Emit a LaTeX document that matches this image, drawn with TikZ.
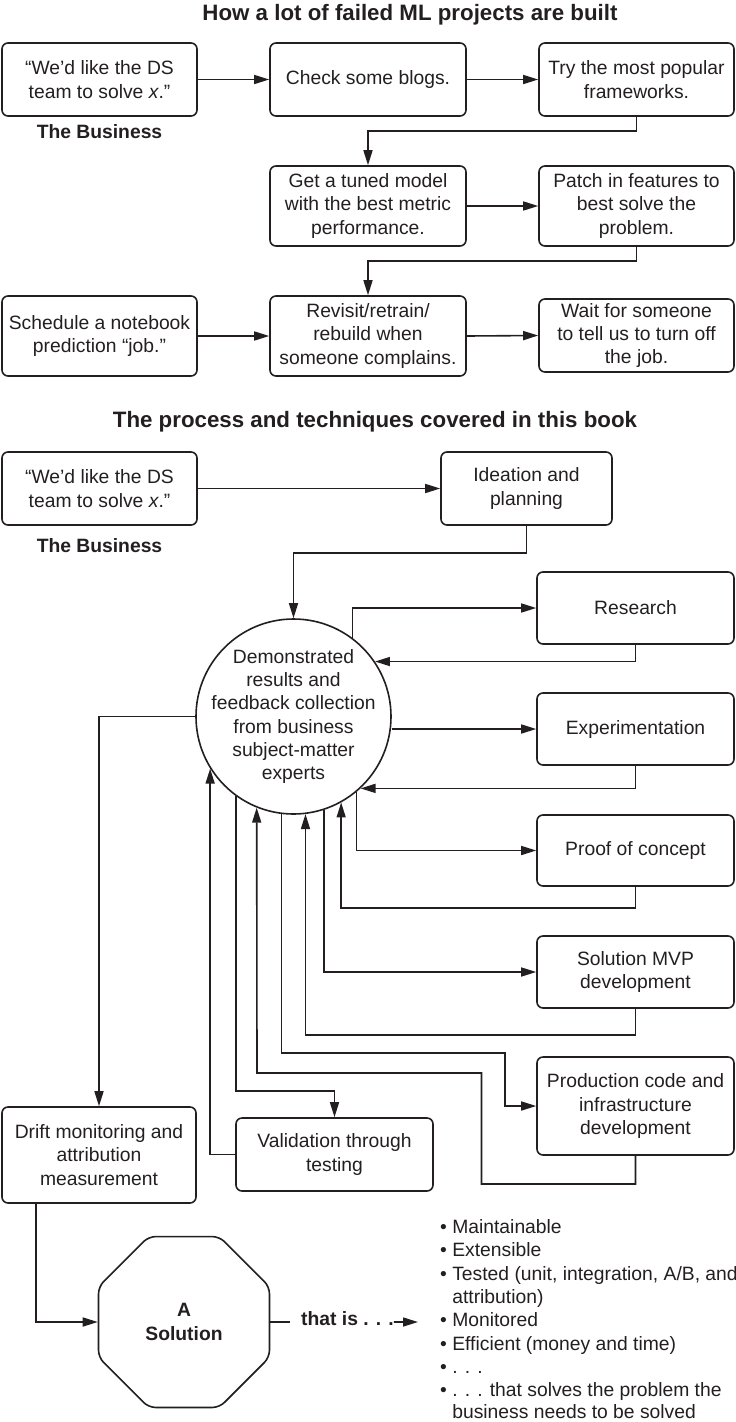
\documentclass[tikz,border=0pt]{standalone}
\usepackage{fontspec}
\setmainfont{Liberation Sans}
\usetikzlibrary{arrows.meta,shapes.geometric,calc}
\definecolor{ink}{HTML}{231F20}
\begin{document}
\begin{tikzpicture}[x=1pt,y=-1pt,
  every node/.style={font=\fontsize{19.3}{23.3}\selectfont, text=ink},
  box/.style={draw=ink, line width=1.6pt, rounded corners=6pt, align=center, inner sep=0pt},
  arr/.style={draw=ink, line width=1.6pt, -{Triangle[length=15pt,width=9pt]}},
  ln/.style={draw=ink, line width=1.6pt},
  ttl/.style={font=\bfseries\fontsize{22.3}{26}\selectfont, anchor=base},
  bold/.style={font=\bfseries\fontsize{19.3}{23.3}\selectfont},
  item/.style={anchor=base west, inner sep=0pt}]
\useasboundingbox (0,0) rectangle (736,1422);

% ---------- top part ----------
\node[ttl] (t1) at (410,20.5) {How a lot of failed ML projects are built};

\node[box, minimum width=195pt, minimum height=73pt] (A1) at (99.5,79.5) {“We’d like the DS\\team to solve \textit{x}.”};
\node[box, minimum width=196pt, minimum height=73pt] (A2) at (368,79.5) {Check some blogs.};
\node[box, minimum width=195pt, minimum height=73pt] (A3) at (636.5,79.5) {Try the most popular\\frameworks.};
\node[bold, anchor=base] (biz1) at (99.5,138) {The Business};

\node[box, minimum width=196pt, minimum height=80pt] (B1) at (368,206) {Get a tuned model\\with the best metric\\performance.};
\node[box, minimum width=195pt, minimum height=80pt] (B2) at (636.5,206) {Patch in features to\\best solve the\\problem.};

\node[box, minimum width=195pt, minimum height=80pt] (C1) at (99.5,336) {Schedule a notebook\\prediction “job.”};
\node[box, minimum width=196pt, minimum height=80pt] (C2) at (368,336) {Revisit/retrain/\\rebuild when\\someone complains.};
\node[box, minimum width=195pt, minimum height=73pt] (C3) at (636.5,335.5) {Wait for someone\\to tell us to turn off\\the job.};

\draw[arr] (A1.east) -- (A2.west);
\draw[arr] (A2.east) -- (A3.west);
\draw[arr] (A3.south) -- ++(0,14) -| (B1.north);
\draw[arr] (B1.east) -- (B2.west);
\draw[arr] (B2.south) -- ++(0,14) -| (C2.north);
\draw[arr] (C1.east) -- (C2.west);
\draw[arr] (C2.east) -- (C3.west);

% ---------- bottom part ----------
\node[ttl] (t2) at (375,427) {The process and techniques covered in this book};

\node[box, minimum width=195pt, minimum height=73pt] (D1) at (99.5,488.5) {“We’d like the DS\\team to solve \textit{x}.”};
\node[box, minimum width=171pt, minimum height=73pt] (D2) at (526.5,488.5) {Ideation and\\planning};
\node[bold, anchor=base] (biz2) at (99.5,552) {The Business};

\node[circle, draw=ink, line width=1.6pt, minimum size=195pt, inner sep=0pt] (C) at (293.5,716.5) {};
\node[align=center, inner sep=0pt] (Ctext) at (C.center) {Demonstrated\\results and\\feedback collection\\from business\\subject-matter\\experts};

\node[box, minimum width=197pt, minimum height=72pt] (R) at (635.5,608) {Research};
\node[box, minimum width=197pt, minimum height=72pt] (E) at (635.5,729) {Experimentation};
\node[box, minimum width=197pt, minimum height=71pt] (P) at (635.5,850.5) {Proof of concept};
\node[box, minimum width=197pt, minimum height=72pt] (M) at (635.5,972) {Solution MVP\\development};
\node[box, minimum width=197pt, minimum height=98pt] (Pr) at (635.5,1106) {Production code and\\infrastructure\\development};
\node[box, minimum width=197pt, minimum height=73pt] (V) at (334.5,1154.5) {Validation through\\testing};
\node[box, minimum width=194pt, minimum height=96pt] (Dr) at (99,1155) {Drift monitoring and\\attribution\\measurement};

\node[draw=ink, line width=1.6pt, regular polygon, regular polygon sides=8, minimum size=185pt,
      inner sep=0pt, rounded corners=7pt, align=center, bold] (O) at (184,1322) {A\\Solution};

\draw[arr] (D1.east) -- (D2.west);
\draw[arr] (D2.south) -- ++(0,27) -| (C.north);

\draw[arr] (C.53) |- (R.west);
\draw[arr] (R.south) |- (C.34);
\draw[arr] (E.west -| C.east) -- (E.west);
\draw[arr] (E.south) |- (C.-47.2);
\draw[arr] (C.-50.9) |- (P.west);
\draw[arr] (P.south) -- ++(0,21) -| (C.-61.5);
\draw[arr] (C.-72.6) |- (M.west);
\draw[arr] (M.south) -- ++(0,26) -| (C.-83.2);
\draw[arr] (C.-97.4) |- (505,1053) |- (Pr.west);
\draw[arr] (Pr.south) |- (481.5,1184) |- (257,1073) -- (C.-112);
\draw[arr] (C.-126.4) |- (334.5,1091) -- (V.north);
\draw[arr] (V.west) -| (C.-148.3);
\draw[arr] (C.west) -| (Dr.north);
\draw[arr] ($(Dr.south west)+(35,0)$) |- (O.west);

% that is ...
\node[bold, anchor=base west, inner sep=0pt] (thatis) at (301,1325.7) {that is . . .};
\coordinate (lt) at (418,1322);
\draw[ln] (O.east) -- ($(thatis.west |- O.east)+(-11,0)$);
\draw[arr] (thatis.east |- O.east) -- (lt);

% list
\node[item] (L1) at (440,1233.5) {\textbullet\ Maintainable};
\node[item] (L2) at (440,1256.8) {\textbullet\ Extensible};
\node[item] (L3) at (440,1280.1) {\textbullet\ Tested (unit, integration, A/B, and};
\node[item] (L4) at (440,1303.4) {\phantom{\textbullet\ }attribution)};
\node[item] (L5) at (440,1326.7) {\textbullet\ Monitored};
\node[item] (L6) at (440,1350.0) {\textbullet\ Efficient (money and time)};
\node[item] (L7) at (440,1373.3) {\textbullet\ . . .};
\node[item] (L8) at (440,1396.6) {\textbullet\ . . . that solves the problem the};
\node[item] (L9) at (440,1418.5) {\phantom{\textbullet\ }business needs to be solved};
\end{tikzpicture}
\end{document}
